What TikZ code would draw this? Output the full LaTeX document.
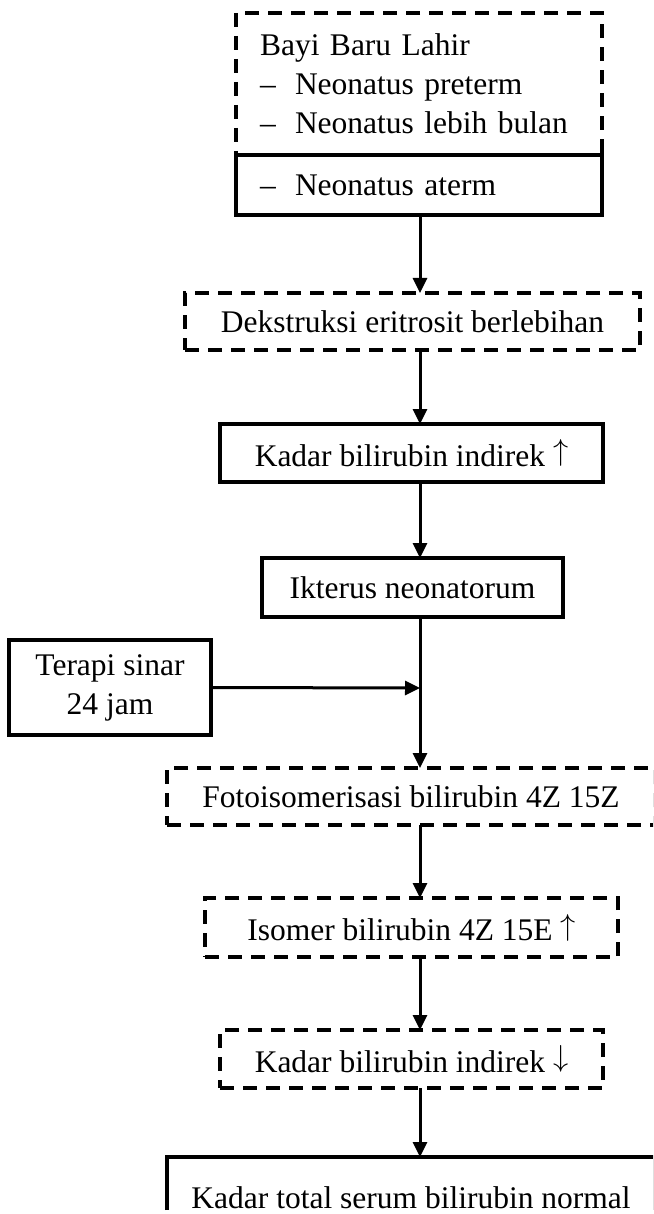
\documentclass[tikz,border=0pt]{standalone}
\usepackage{fontspec}
\setmainfont{Liberation Serif}
\usetikzlibrary{arrows.meta}
\newcommand{\uparr}{\raisebox{5.5pt}{\resizebox*{!}{27pt}{$\uparrow$}}}
\newcommand{\downarr}{\raisebox{5.5pt}{\resizebox*{!}{27pt}{$\downarrow$}}}
\begin{document}
\begin{tikzpicture}[x=1pt,y=-1pt,
  box/.style={draw, line width=3.5pt, rectangle, inner sep=0pt, outer sep=0pt,
              font=\fontsize{31.5}{39}\selectfont, align=center},
  dbox/.style={box, dash pattern=on 14pt off 9pt},
  frame/.style={line width=3.5pt},
  arr/.style={line width=3pt, -{Triangle[length=15pt,width=14pt]}},
  ln/.style={line width=3pt}]
\useasboundingbox (0,0) rectangle (653,1214);
\clip (0,0) rectangle (653,1214);

\coordinate (spine) at (420,0);
\coordinate (join) at (420,688);

\node[dbox, minimum width=366pt, minimum height=142pt, align=left, text width=318pt] (bayi) at (419,84)
  {Bayi Baru Lahir\\ \makebox[35pt][l]{–}Neonatus preterm\\ \makebox[35pt][l]{–}Neonatus lebih bulan};
\node[box, minimum width=366pt, minimum height=60pt, align=left, text width=318pt] (aterm) at (419,185)
  {\makebox[35pt][l]{–}Neonatus aterm};
\node[dbox, minimum width=455pt, minimum height=57pt] (dek) at (412.5,321.5) {Dekstruksi eritrosit berlebihan};
\node[box, minimum width=383pt, minimum height=58pt] (kadar1) at (411.5,453) {Kadar bilirubin indirek \uparr};
\node[box, minimum width=301pt, minimum height=59pt] (ikterus) at (412.5,587.5) {Ikterus neonatorum};
\node[box, minimum width=202pt, minimum height=95pt] (terapi) at (110,687.5) {Terapi sinar\\24 jam};
\node[dbox, minimum width=488pt, minimum height=57pt] (foto) at (411,796.5) {Fotoisomerisasi bilirubin 4Z 15Z};
\node[dbox, minimum width=413pt, minimum height=59pt] (isomer) at (411.5,927.5) {Isomer bilirubin 4Z 15E \uparr};
\node[dbox, minimum width=383pt, minimum height=58pt] (kadar2) at (411.5,1059) {Kadar bilirubin indirek \downarr};
\node[box, draw=none, minimum width=488pt, text height=51pt, text depth=2pt, anchor=base] (final) at (411,1208)
  {Kadar total serum bilirubin normal};
\draw[frame] (final.south west) -- (final.north west) -- (final.north east) -- (final.south east);

\draw[arr] (aterm.south -| spine) -- (dek.north -| spine);
\draw[arr] (dek.south -| spine) -- (kadar1.north -| spine);
\draw[arr] (kadar1.south -| spine) -- (ikterus.north -| spine);
\draw[ln] (ikterus.south -| spine) -- (join);
\draw[arr] (join) -- (foto.north -| spine);
\draw[arr] (terapi.east) -- (join);
\draw[arr] (foto.south -| spine) -- (isomer.north -| spine);
\draw[arr] (isomer.south -| spine) -- (kadar2.north -| spine);
\draw[arr] (kadar2.south -| spine) -- (final.north -| spine);
\end{tikzpicture}
\end{document}
